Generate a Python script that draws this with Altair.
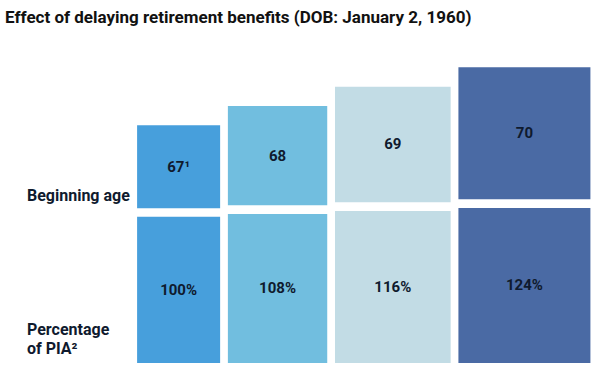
import altair as alt
import pandas as pd

# ---- data ----
title_text = "Effect of delaying retirement benefits (DOB: January 2, 1960)"
ages = ["67\u00b9", "68", "69", "70"]
pcts = [100, 108, 116, 124]
pct_labels = ["100%", "108%", "116%", "124%"]
colors = ["#479fdc", "#71bedf", "#c2dce5", "#4a6aa4"]
row_labels = ["Beginning age", "Percentage\nof PIA\u00b2"]

# ---- layout derived from the percentages ----
H_GAP = 3.8
V_GAP = 4.2
rows = []
x = 0.0
for a, p, pl in zip(ages, pcts, pct_labels):
    side = p - 59.3              # top boxes are squares growing with the percentage
    bottom_h = 53.3 + 0.183 * p  # bottom boxes grow slightly
    yt0 = bottom_h + V_GAP
    rows.append(dict(age=a, pct=pl, x0=x, x1=x + side, cx=x + side / 2,
                     yb0=0.0, yb1=bottom_h, cyb=bottom_h / 2 + 0.1 * (p - 100) / 8,
                     yt0=yt0, yt1=yt0 + side, cyt=yt0 + side / 2))
    x += side + H_GAP
df = pd.DataFrame(rows)

xs = alt.Scale(domain=[-67.2, 226.9], nice=False, zero=False)
ys = alt.Scale(domain=[-6.4, 177.9], nice=False, zero=False)
cs = alt.Scale(domain=ages, range=colors)
TXT = "#0f1a2e"
FONT = "Roboto"

base = alt.Chart(df)

top_rect = base.mark_rect().encode(
    x=alt.X("x0:Q", scale=xs, axis=None), x2="x1",
    y=alt.Y("yt0:Q", scale=ys, axis=None), y2="yt1",
    color=alt.Color("age:N", scale=cs, legend=None),
)
bot_rect = base.mark_rect().encode(
    x=alt.X("x0:Q", scale=xs, axis=None), x2="x1",
    y=alt.Y("yb0:Q", scale=ys, axis=None), y2="yb1",
    color=alt.Color("age:N", scale=cs, legend=None),
)
top_txt = base.mark_text(font=FONT, fontSize=15, fontWeight="bold", color=TXT).encode(
    x=alt.X("cx:Q", scale=xs, axis=None),
    y=alt.Y("cyt:Q", scale=ys, axis=None),
    text="age:N",
)
bot_txt = base.mark_text(font=FONT, fontSize=15, fontWeight="bold", color=TXT).encode(
    x=alt.X("cx:Q", scale=xs, axis=None),
    y=alt.Y("cyb:Q", scale=ys, axis=None),
    text="pct:N",
)

def left_label(txt, ypx):
    return alt.Chart(pd.DataFrame({"t": [txt]})).mark_text(
        font=FONT, fontSize=16, fontWeight="bold", color=TXT, align="left",
        baseline="alphabetic", lineBreak="\n", lineHeight=19
    ).encode(x=alt.value(27), y=alt.value(ypx), text="t:N")

lab1 = left_label(row_labels[0], 201)
lab2 = left_label(row_labels[1], 335)

title = alt.Chart(pd.DataFrame({"t": [title_text]})).mark_text(
    font=FONT, fontSize=17, fontWeight="bold", color="#111111", align="left", baseline="alphabetic"
).encode(x=alt.value(5), y=alt.value(23), text="t:N")

chart = alt.layer(top_rect, bot_rect, top_txt, bot_txt, lab1, lab2, title).properties(
    width=600, height=376, autosize="none", padding=0
).configure_view(stroke=None)

chart.save("out.html", embed_options={"renderer": "svg", "actions": False})
